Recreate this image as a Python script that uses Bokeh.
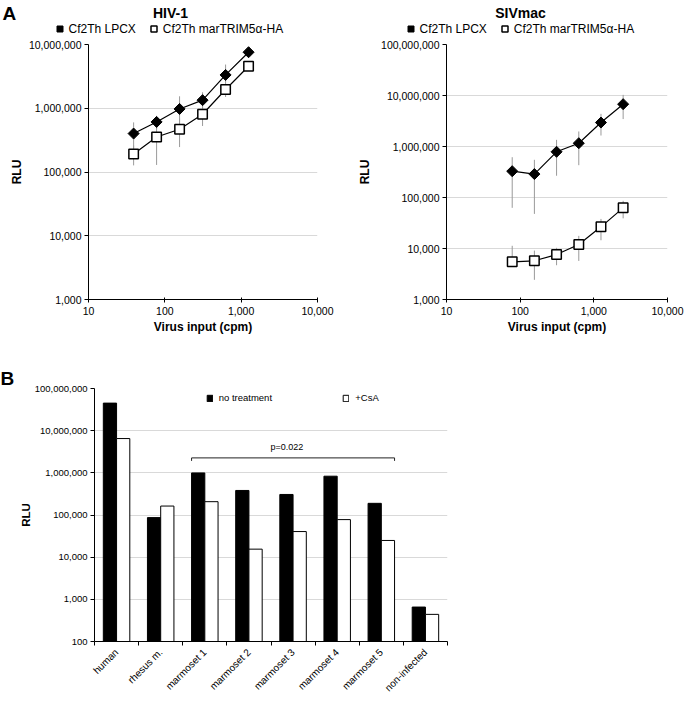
import numpy as np
from bokeh.plotting import figure
from bokeh.models import (FixedTicker, NumeralTickFormatter, Legend, LegendItem, Label,
                          ColumnDataSource)
from bokeh.transform import dodge
from bokeh.layouts import column, row
from bokeh.embed import file_html
from bokeh.resources import INLINE

# ---------------- data ----------------
# Panel A, HIV-1
hiv_x = [39, 78, 156, 312, 625, 1250]
hiv_lpcx = [401000, 610000, 975000, 1340000, 3330000, 7570000]
hiv_lpcx_lo = [200000, 470000, 410000, 900000, 1800000, 6600000]
hiv_lpcx_hi = [600000, 760000, 1540000, 1780000, 4850000, 8500000]
hiv_trim = [192000, 354000, 468000, 806000, 1970000, 4560000]
hiv_trim_lo = [127000, 129000, 246000, 527000, 1500000, 4100000]
hiv_trim_hi = [260000, 580000, 690000, 1080000, 2400000, 5000000]

# Panel A, SIVmac
siv_x = [78, 156, 312, 625, 1250, 2500]
siv_lpcx = [328000, 288000, 787000, 1160000, 2950000, 6760000]
siv_lpcx_lo = [62700, 47700, 267000, 430000, 1640000, 3450000]
siv_lpcx_hi = [617000, 548000, 1350000, 1970000, 4370000, 10300000]
siv_trim = [5480, 5740, 7600, 12000, 26600, 62700]
siv_trim_lo = [5000, 2430, 4700, 5700, 14500, 39000]
siv_trim_hi = [11300, 9100, 10300, 17700, 38000, 86000]

a_xticks = [10, 100, 1000, 10000]
hiv_yticks = [1000, 10000, 100000, 1000000, 10000000]
siv_yticks = [1000, 10000, 100000, 1000000, 10000000, 100000000]
series_labels = ["Cf2Th LPCX", "Cf2Th marTRIM5\u03b1-HA"]
panel_titles = ["HIV-1", "SIVmac"]

# Panel B
categories = ["human", "rhesus m.", "marmoset 1", "marmoset 2", "marmoset 3",
              "marmoset 4", "marmoset 5", "non-infected"]
no_treatment = [45000000, 86700, 995000, 382000, 307000, 832000, 189000, 656]
csa = [6500000, 163000, 207000, 15500, 40500, 77800, 24900, 440]
b_yticks = [100, 1000, 10000, 100000, 1000000, 10000000, 100000000]
b_labels = ["no treatment", "+CsA"]
p_text = "p=0.022"
bracket_x = [2.7, 2.7, 7.3, 7.3]
bracket_y = [1920000, 2260000, 2260000, 1920000]

FONT = "Liberation Sans"
W = 685


def txt(p, x, y, text, size, bold=False, align="center", baseline="middle"):
    p.add_layout(Label(x=x, y=y, x_units="screen", y_units="screen", text=text,
                       text_align=align, text_baseline=baseline,
                       text_font=FONT, text_font_size=size, text_color="#000000",
                       text_font_style="bold" if bold else "normal"))


def blank(width, height):
    f = figure(width=width, height=height, x_range=(0, 1), y_range=(0, 1),
               x_axis_location=None, y_axis_location=None, output_backend="svg",
               toolbar_location=None, min_border=0)
    f.grid.visible = False
    f.outline_line_color = None
    return f


def style_axes(p, size):
    for ax in (p.xaxis[0], p.yaxis[0]):
        ax.major_label_text_font = FONT
        ax.major_label_text_font_size = size
        ax.major_label_text_color = "#000000"
        ax.axis_line_color = "black"
        ax.major_tick_line_color = "black"
        ax.minor_tick_line_color = None
        ax.axis_label_text_font = FONT
        ax.axis_label_text_font_style = "bold"
        ax.axis_label_text_color = "#000000"
    p.yaxis.major_tick_out = 4
    p.yaxis.major_tick_in = 0
    p.yaxis.major_label_standoff = 3
    p.xaxis.major_tick_out = 3
    p.xaxis.major_tick_in = 2
    p.outline_line_color = None
    p.xgrid.visible = False
    p.ygrid.grid_line_color = "#d9d9d9"
    p.ygrid.grid_line_width = 1


# ---------------- strip above panel A: letter, titles, legends ----------------
STRIP_H = 37
strip = blank(W, STRIP_H)
txt(strip, 2, STRIP_H - 2, "A", "19px", bold=True, align="left", baseline="top")
for t, cx in zip(panel_titles, (170, 520)):
    txt(strip, cx, STRIP_H - 4, t, "14px", bold=True, baseline="top")
for lx in (50.5, 401.5):
    d1 = strip.scatter(x=[np.nan], y=[np.nan], marker="square", angle=np.pi / 4,
                       size=7.8, fill_color="black", line_color="black")
    d2 = strip.scatter(x=[np.nan], y=[np.nan], marker="square", size=9.5,
                       fill_color="white", line_color="black", line_width=1.5)
    leg = Legend(items=[LegendItem(label=series_labels[0], renderers=[d1]),
                        LegendItem(label=series_labels[1], renderers=[d2])],
                 orientation="horizontal", location=(lx, 1),
                 glyph_width=17, glyph_height=15, label_height=15, label_standoff=1,
                 spacing=9, padding=0, margin=0, border_line_color=None,
                 background_fill_alpha=0, label_text_font=FONT,
                 label_text_font_size="12px", label_text_color="#000000")
    strip.add_layout(leg)

ROW_H = 303


def panel_a(x, lp, lp_lo, lp_hi, tr, tr_lo, tr_hi, yticks, width, bl, br, rlu_standoff):
    p = figure(width=width, height=ROW_H, x_axis_type="log", y_axis_type="log",
               x_range=(10, 10000), y_range=(yticks[0], yticks[-1]),
               output_backend="svg", toolbar_location=None,
               min_border_left=bl, min_border_right=br, min_border_top=7,
               min_border_bottom=ROW_H - 7 - 255)
    style_axes(p, "10.5px")
    p.xaxis.ticker = FixedTicker(ticks=a_xticks)
    p.yaxis.ticker = FixedTicker(ticks=yticks)
    p.ygrid.ticker = FixedTicker(ticks=yticks)
    p.xaxis.formatter = NumeralTickFormatter(format="0,0")
    p.yaxis.formatter = NumeralTickFormatter(format="0,0")
    p.xaxis.major_label_standoff = 4
    p.xaxis.axis_label = "Virus input (cpm)"
    p.yaxis.axis_label = "RLU"
    p.xaxis.axis_label_text_font_size = "12px"
    p.yaxis.axis_label_text_font_size = "12px"
    p.xaxis.axis_label_standoff = 2
    p.yaxis.axis_label_standoff = rlu_standoff

    s1 = ColumnDataSource(dict(x=x, y=lp, lo=lp_lo, hi=lp_hi))
    s2 = ColumnDataSource(dict(x=x, y=tr, lo=tr_lo, hi=tr_hi))
    for s in (s1, s2):
        p.segment(x0="x", y0="lo", x1="x", y1="hi", source=s,
                  line_color="#9a9a9a", line_width=1)
    p.line("x", "y", source=s1, line_color="black", line_width=1.2)
    p.line("x", "y", source=s2, line_color="black", line_width=1.2)
    p.scatter("x", "y", source=s1, marker="square", angle=np.pi / 4, size=7.8,
              fill_color="black", line_color="black")
    p.scatter("x", "y", source=s2, marker="square", size=9.5,
              fill_color="white", line_color="black", line_width=1.5)
    return p


p1 = panel_a(hiv_x, hiv_lpcx, hiv_lpcx_lo, hiv_lpcx_hi, hiv_trim, hiv_trim_lo,
             hiv_trim_hi, hiv_yticks, 340, 88, 23, 2)
p2 = panel_a(siv_x, siv_lpcx, siv_lpcx_lo, siv_lpcx_hi, siv_trim, siv_trim_lo,
             siv_trim_hi, siv_yticks, W - 340, 106, W - 667, 6)

# ---------------- Panel B ----------------
BH = 360
pos = list(range(1, len(categories) + 1))
BL = 94
BT = 48
BB = BH - BT - 254
BR = W - BL - 353
b_fh = BH - BT - BB
p3 = figure(width=W, height=BH, y_axis_type="log", x_range=(0.5, 8.5),
            y_range=(b_yticks[0], b_yticks[-1]), output_backend="svg",
            toolbar_location=None, min_border_left=BL, min_border_right=BR,
            min_border_top=BT, min_border_bottom=BB, title="B")
p3.title.align = "left"
p3.title.offset = -BL
p3.title.standoff = 0
p3.title.text_font = FONT
p3.title.text_font_size = "19px"
p3.title.text_font_style = "bold"
p3.title.text_color = "#000000"
style_axes(p3, "9.5px")
p3.yaxis.ticker = FixedTicker(ticks=b_yticks)
p3.ygrid.ticker = FixedTicker(ticks=b_yticks)
p3.yaxis.formatter = NumeralTickFormatter(format="0,0")
p3.xaxis.ticker = FixedTicker(ticks=pos, minor_ticks=[i + 0.5 for i in range(0, 9)])
p3.xaxis.major_label_overrides = {i: c for i, c in zip(pos, categories)}
p3.xaxis.major_label_text_font_size = "10px"
p3.xaxis.major_label_orientation = np.pi / 4
p3.xaxis.major_label_standoff = 5
p3.xaxis.major_tick_out = 0
p3.xaxis.major_tick_in = 0
p3.xaxis.minor_tick_line_color = "black"
p3.xaxis.minor_tick_out = 4
p3.xaxis.minor_tick_in = 0
p3.yaxis.axis_label = "RLU"
p3.yaxis.axis_label_text_font_size = "11.5px"
p3.yaxis.axis_label_standoff = 0

src = ColumnDataSource(dict(x=pos, nt=no_treatment, csa=csa))
rb1 = p3.vbar(x=dodge("x", -0.15), top="nt", bottom=b_yticks[0], width=0.3, source=src,
              fill_color="black", line_color="black", line_width=1)
rb2 = p3.vbar(x=dodge("x", 0.15), top="csa", bottom=b_yticks[0], width=0.3, source=src,
              fill_color="white", line_color="black", line_width=1)

for lab, r, lx in ((b_labels[0], rb1, 111.7), (b_labels[1], rb2, 248.3)):
    lg = Legend(items=[LegendItem(label=lab, renderers=[r])], location=(lx, b_fh - 16),
                glyph_width=7, glyph_height=8, label_height=8, label_standoff=6,
                padding=0, margin=0, border_line_color=None, background_fill_alpha=0,
                label_text_font=FONT, label_text_font_size="9.5px",
                label_text_color="#000000")
    p3.add_layout(lg)

p3.line(bracket_x, bracket_y, line_color="#222222", line_width=1)
p3.add_layout(Label(x=4.86, y=4000000, text=p_text, text_align="center",
                    text_baseline="middle", text_font=FONT, text_font_size="9px",
                    text_color="#000000"))

layout = column(row(strip), row(p1, p2), row(p3))
open("out.html", "w").write(file_html(layout, INLINE))
